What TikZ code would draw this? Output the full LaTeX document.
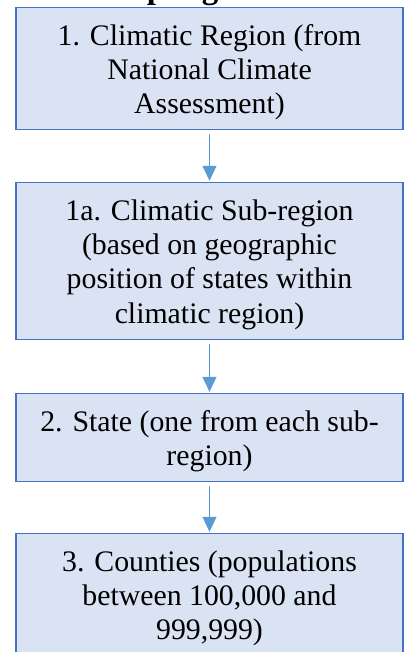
\documentclass[tikz,border=0pt]{standalone}
\usepackage{fontspec}
\setmainfont{Liberation Serif}
\usetikzlibrary{arrows.meta}
\definecolor{boxfill}{HTML}{DAE3F3}
\definecolor{boxline}{HTML}{4472C4}
\definecolor{arrowc}{HTML}{5B9BD5}
\tikzset{
  stepbox/.style={draw=boxline, fill=boxfill, line width=1.3pt, inner sep=0pt,
    minimum width=387pt, anchor=north},
  steptext/.style={align=center, text=black, inner sep=0pt, yshift=-3.5pt,
    font=\fontsize{29.8}{34.3}\selectfont},
  flowarrow/.style={draw=arrowc, line width=1pt, -{Triangle[width=14pt,length=15pt]},
    shorten <=3.5pt, shorten >=1.2pt},
  titletext/.style={font=\fontsize{33}{36}\selectfont\bfseries, anchor=base, inner sep=0pt}
}
\begin{document}
\begin{tikzpicture}[x=1pt,y=-1pt]
\useasboundingbox (0,0) rectangle (404,652);
\clip (0,0) rectangle (404,652);
\node[titletext] (title) at (208.5,-1.2) {Sampling Process};
\node[stepbox, minimum height=122pt] (b1) at (209.5,7) {};
\node[steptext] (b1t) at (b1.center) {1. Climatic Region (from\\National Climate\\Assessment)};
\node[stepbox, minimum height=157pt] (b2) at (209.5,182) {};
\node[steptext] (b2t) at (b2.center) {1a. Climatic Sub-region\\(based on geographic\\position of states within\\climatic region)};
\node[stepbox, minimum height=88pt] (b3) at (209.5,393) {};
\node[steptext] (b3t) at (b3.center) {2. State (one from each sub-\\region)};
\node[stepbox, minimum height=122pt] (b4) at (209.5,533) {};
\node[steptext] (b4t) at (b4.center) {3. Counties (populations\\between 100,000 and\\999,999)};
\draw[flowarrow] (b1.south) -- (b2.north);
\draw[flowarrow] (b2.south) -- (b3.north);
\draw[flowarrow] (b3.south) -- (b4.north);
\end{tikzpicture}
\end{document}
